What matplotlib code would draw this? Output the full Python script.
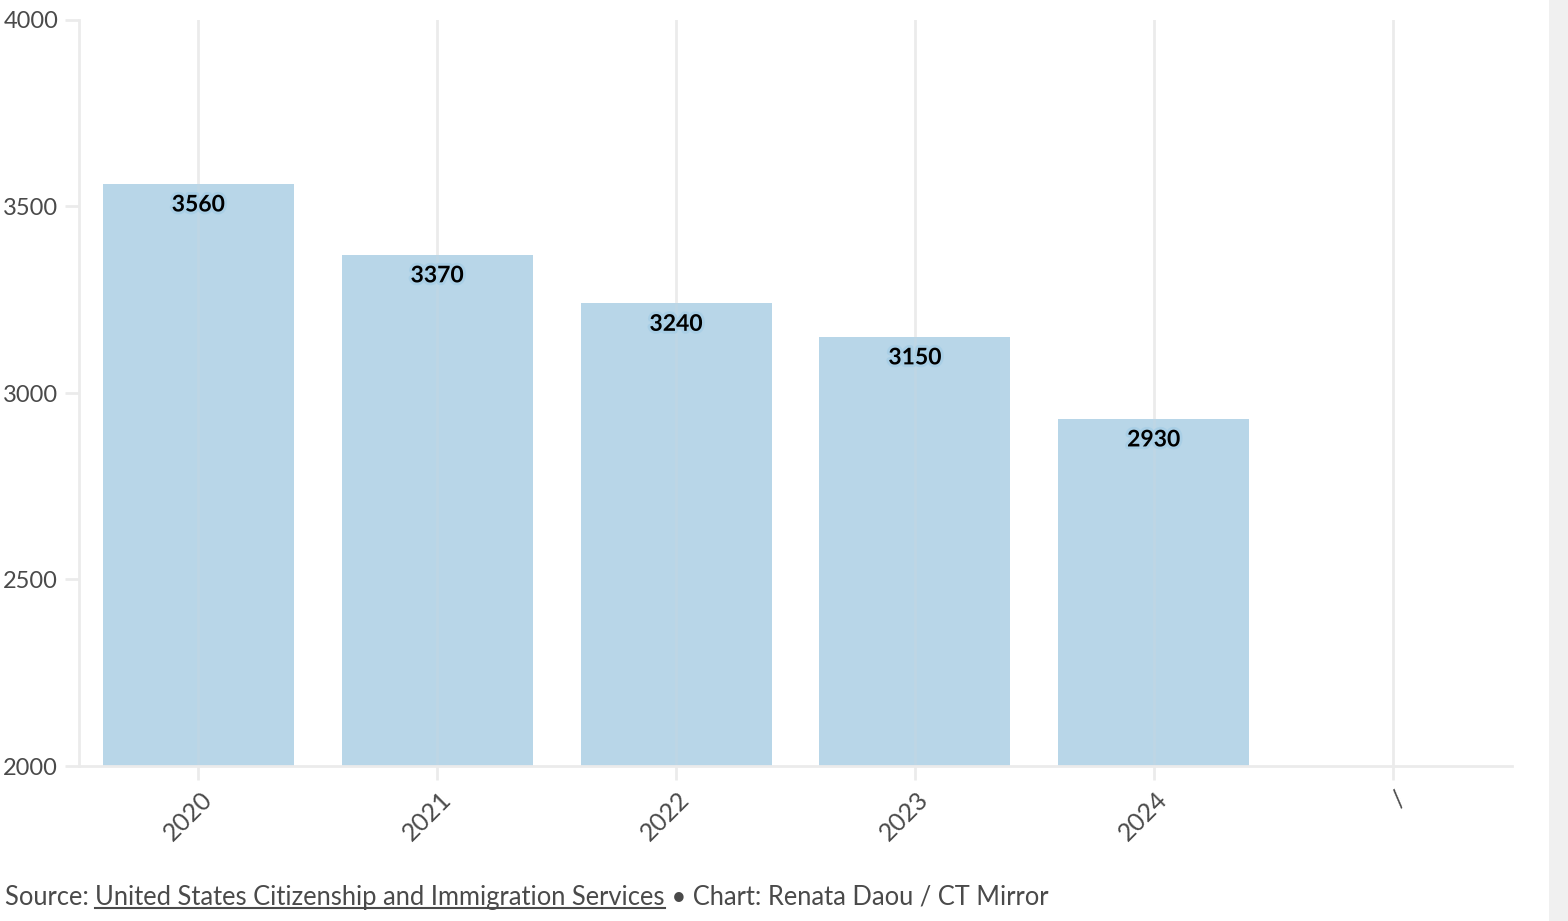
import matplotlib
matplotlib.use("Agg")
import matplotlib.pyplot as plt
import matplotlib.patheffects as pe
import matplotlib.transforms as mtransforms
from matplotlib.patches import Rectangle

categories = ["2020", "2021", "2022", "2023", "2024", "/"]
values = [3560, 3370, 3240, 3150, 2930, None]
yticks = [2000, 2500, 3000, 3500, 4000]

plt.rcParams['font.family'] = ['Lato', 'DejaVu Sans']

W, H = 1568, 921
fig = plt.figure(figsize=(W / 100, H / 100), dpi=100)
ax = fig.add_axes([79 / W, 1 - 766 / H, (1512 - 79) / W, (766 - 20) / H])

bar_color = '#b8d6e8'
grid_color = '#ebebeb'
text_color = '#4a4a4a'

xs = list(range(len(categories)))
for x in xs:
    ax.axvline(x, color=grid_color, lw=2, zorder=0)

bx = [x for x, v in zip(xs, values) if v is not None]
bv = [v for v in values if v is not None]
ax.bar(bx, [v - 2000 for v in bv], bottom=2000, width=0.8, color=bar_color, zorder=1)
# faint gridline showing through bars
ax.vlines(bx, 2000, bv, color='#d0d8de', lw=2, alpha=0.25, zorder=2)

for x, v in zip(bx, bv):
    ax.annotate(str(v), (x, v), xytext=(0, -15), textcoords='offset points',
                ha='center', va='center', fontsize=16.5, fontweight='bold', color='black',
                path_effects=[pe.withStroke(linewidth=4, foreground='#a9cfe6')], zorder=3)

ax.set_xlim(-0.5, 5.5)
ax.set_ylim(2000, 4000)
ax.set_yticks(yticks)
ax.set_yticklabels([str(t) for t in yticks])
ax.set_xticks(xs)
ax.set_xticklabels(categories)

for s in ['top', 'right']:
    ax.spines[s].set_visible(False)
for s in ['left', 'bottom']:
    ax.spines[s].set_color(grid_color)
    ax.spines[s].set_linewidth(2)

ax.tick_params(axis='y', length=10, width=2, color=grid_color, pad=5,
               labelsize=17, labelcolor=text_color)
ax.tick_params(axis='x', length=10, width=2, color=grid_color, pad=4,
               labelsize=18, labelcolor=text_color)
for lab in ax.get_xticklabels():
    lab.set_rotation(45)
    lab.set_ha('right')
    lab.set_va('center')
    lab.set_rotation_mode('anchor')
    lab.set_transform(lab.get_transform() + mtransforms.ScaledTranslation(10 / 100, -10 / 100, fig.dpi_scale_trans))

# scrollbar-like strip at right edge
fig.patches.append(Rectangle((1549 / W, 0), 19 / W, 1, transform=fig.transFigure,
                             facecolor='#f0f0f0', edgecolor='none'))

# source line
fig.canvas.draw()
renderer = fig.canvas.get_renderer()
y_src = 1 - 897 / H
x0 = 5 / W
fs = 18.4
t1 = fig.text(x0, y_src, "Source: ", fontsize=fs, color=text_color, va='center', ha='left')
bb1 = t1.get_window_extent(renderer)
t2 = fig.text(bb1.x1 / W, y_src, "United States Citizenship and Immigration Services",
              fontsize=fs, color=text_color, va='center', ha='left')
bb2 = t2.get_window_extent(renderer)
t3 = fig.text(bb2.x1 / W, y_src, " • Chart: Renata Daou / CT Mirror",
              fontsize=fs, color=text_color, va='center', ha='left')
uy = (bb2.y0 + 2) / H
fig.add_artist(plt.Line2D([bb2.x0 / W, bb2.x1 / W], [uy, uy], transform=fig.transFigure,
                          color=text_color, lw=1.5))

fig.savefig("out.png", dpi=100)
